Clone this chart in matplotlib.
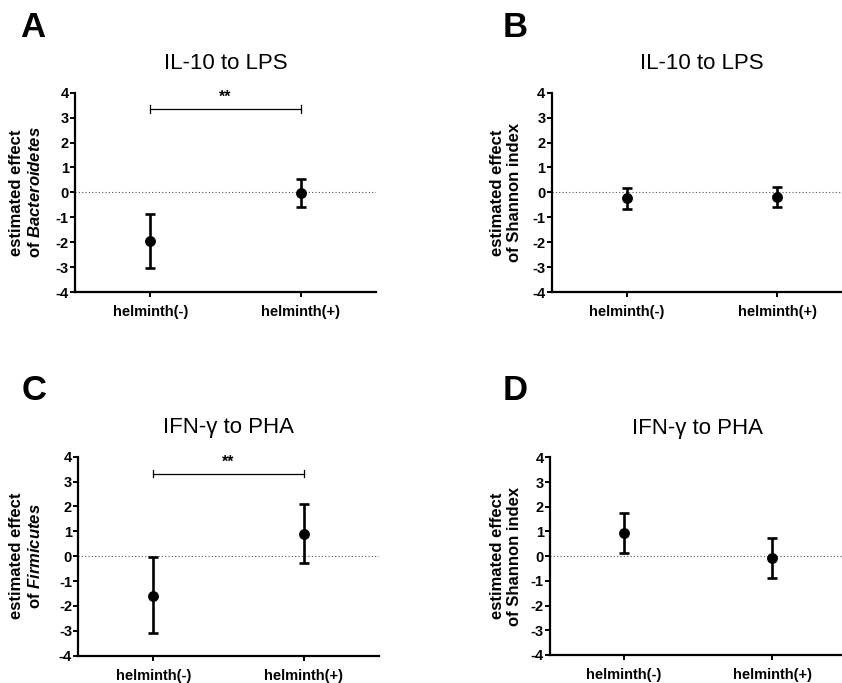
import matplotlib
matplotlib.use("Agg")
import matplotlib.pyplot as plt
import numpy as np

plt.rcParams['font.family'] = ['Liberation Sans', 'DejaVu Sans']
plt.rcParams['mathtext.fontset'] = 'custom'
plt.rcParams['mathtext.it'] = 'Liberation Sans:bold:italic'
plt.rcParams['mathtext.rm'] = 'Liberation Sans:bold'
plt.rcParams['mathtext.bf'] = 'Liberation Sans:bold'

categories = ["helminth(-)", "helminth(+)"]
yticks = [4, 3, 2, 1, 0, -1, -2, -3, -4]

titles = ["IL-10 to LPS", "IL-10 to LPS", "IFN-\u03b3 to PHA", "IFN-\u03b3 to PHA"]
letters = ["A", "B", "C", "D"]
ylabels = ["estimated effect\nof $\\it{Bacteroidetes}$",
           "estimated effect\nof Shannon index",
           "estimated effect\nof $\\it{Firmicutes}$",
           "estimated effect\nof Shannon index"]

mean_A = [-1.95, -0.03]
low_A = [-3.03, -0.57]
high_A = [-0.86, 0.55]

mean_B = [-0.24, -0.19]
low_B = [-0.65, -0.57]
high_B = [0.17, 0.22]

mean_C = [-1.60, 0.90]
low_C = [-3.10, -0.28]
high_C = [-0.05, 2.08]

mean_D = [0.94, -0.09]
low_D = [0.14, -0.89]
high_D = [1.73, 0.72]

sig_labels = ["**", None, "**", None]
sig_bracket_y = [3.35, None, 3.32, None]

means = [mean_A, mean_B, mean_C, mean_D]
lows = [low_A, low_B, low_C, low_D]
highs = [high_A, high_B, high_C, high_D]

W, H = 842, 683
fig = plt.figure(figsize=(W / 100, H / 100), dpi=100)

# axes rectangles in pixels: left, top, right, bottom
rects_px = [(75, 92.7, 376, 292), (551.7, 92.7, 852.7, 292),
            (78.3, 456.7, 379, 655.7), (550, 457.3, 846, 655)]
letter_pos = [(20, 37), (503, 37), (22, 400), (503, 400)]
ylabel_x = [26, 506, 26, 506]

for i in range(4):
    l, t, r, b = rects_px[i]
    ax = fig.add_axes([l / W, 1 - b / H, (r - l) / W, (b - t) / H])
    x = np.arange(len(categories))
    m = np.array(means[i])
    lo = np.array(lows[i])
    hi = np.array(highs[i])
    ax.axhline(0, color='#555555', lw=0.8, ls=(0, (1, 2)), zorder=1)
    ax.errorbar(x, m, yerr=[m - lo, hi - m], fmt='o', color='black',
                ecolor='black', elinewidth=1.9, capsize=3.5, capthick=1.9,
                markersize=6.8, zorder=3, clip_on=False)
    ax.set_xlim(-0.5, 1.5)
    ax.set_ylim(-4, 4)
    ax.set_yticks(yticks)
    ax.set_yticklabels([str(v) for v in yticks], fontsize=10.5, fontweight='bold')
    ax.set_xticks(x)
    ax.set_xticklabels(categories, fontsize=10.5, fontweight='bold')
    for s in ['top', 'right']:
        ax.spines[s].set_visible(False)
    for s in ['left', 'bottom']:
        ax.spines[s].set_linewidth(1.6)
    ax.tick_params(axis='y', length=3.5, width=1.4, pad=1)
    ax.tick_params(axis='x', length=3.5, width=1.4, pad=6)
    ax.text(0.5, 1.12, titles[i], transform=ax.transAxes, ha='center',
            va='baseline', fontsize=16)
    fig.text(letter_pos[i][0] / W, 1 - letter_pos[i][1] / H, letters[i],
             fontsize=25, fontweight='bold', ha='left', va='baseline')
    yc = 1 - ((t + b) / 2) / H
    fig.text(ylabel_x[i] / W, yc, ylabels[i], rotation=90, ha='center',
             va='center', multialignment='center', fontsize=12,
             fontweight='bold', linespacing=1.2)
    if sig_labels[i]:
        yb = sig_bracket_y[i]
        ax.plot([x[0], x[1]], [yb, yb], color='black', lw=0.9, clip_on=False)
        for xx in x:
            ax.plot([xx, xx], [yb - 0.15, yb + 0.15], color='black', lw=0.9,
                    clip_on=False)
        ax.text((x[0] + x[1]) / 2, yb + 0.28, sig_labels[i], ha='center',
                va='baseline', fontsize=11.5, fontweight='bold', clip_on=False)

fig.savefig("out.png", dpi=100)
